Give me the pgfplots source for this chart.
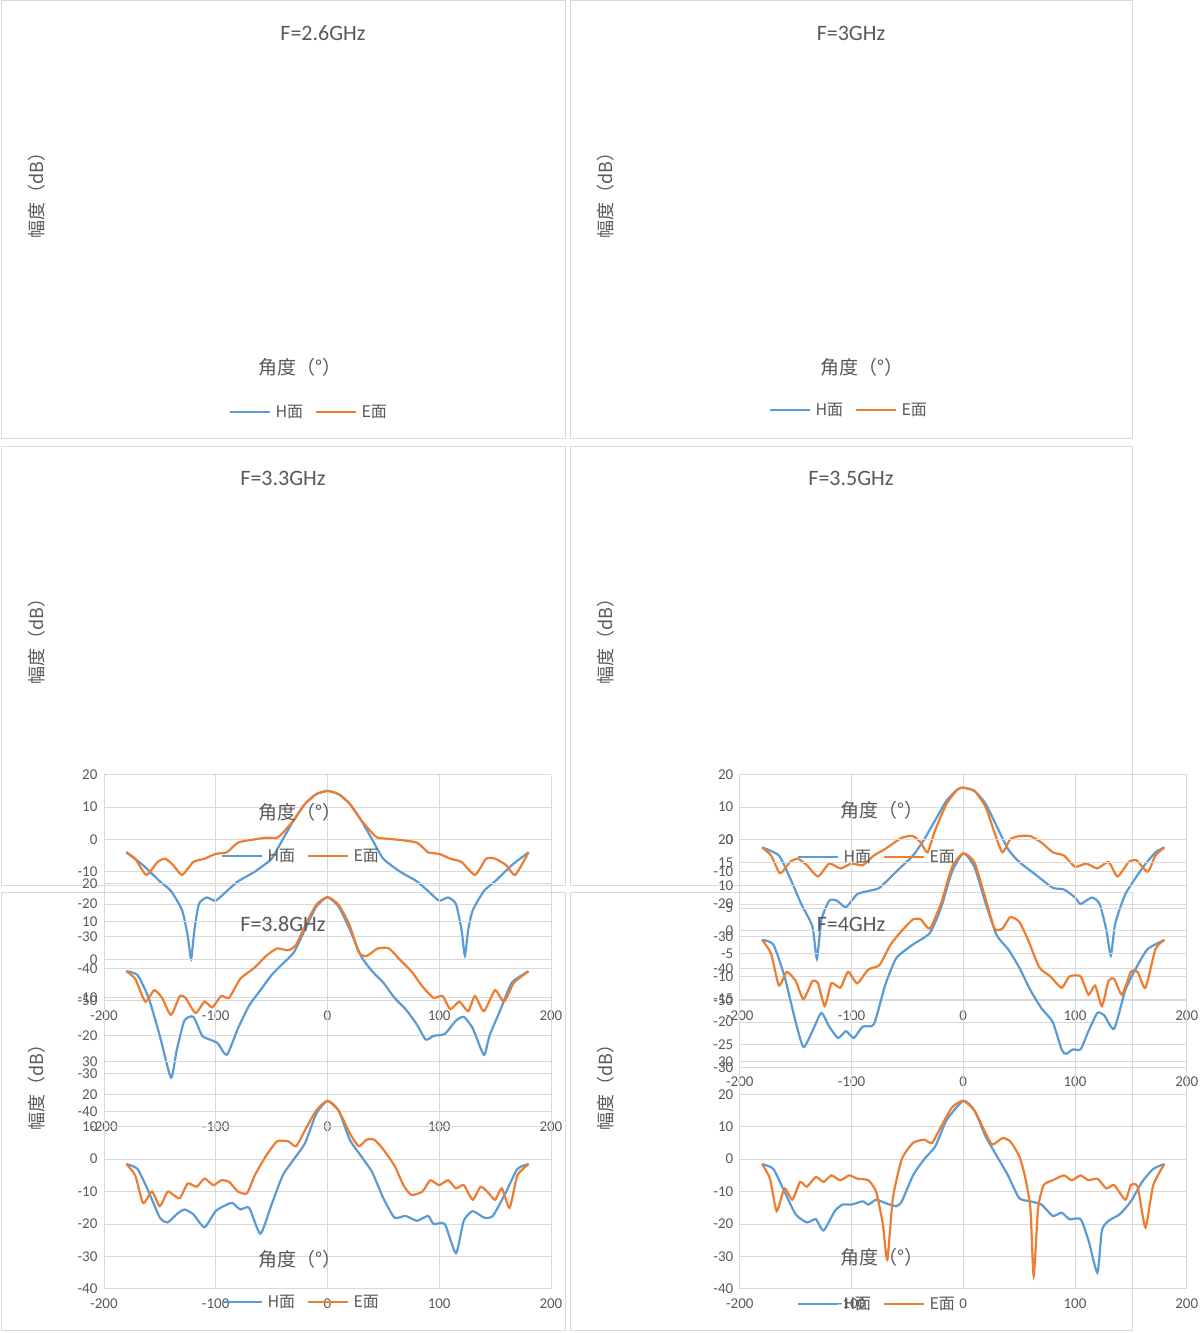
\documentclass[border=0pt]{standalone}
\usepackage{pgfplots}
\pgfplotsset{compat=1.18}
\usepackage{fontspec}
\setmainfont{Carlito}
\newfontfamily\cjk{Noto Sans CJK SC}
\definecolor{hb}{HTML}{5B9BD5}
\definecolor{eo}{HTML}{ED7D31}
\definecolor{gr}{HTML}{D9D9D9}
\definecolor{tx}{HTML}{595959}
\pgfplotsset{pan/.style={scale only axis,width=447pt,anchor=south west,
 xmin=-200,xmax=200,xtick={-200,-100,0,100,200},
 grid=major,grid style={gr,line width=0.8pt},axis line style={draw=none},
 major tick length=0pt,
 /pgf/number format/assume math mode=true,
 tick label style={tx,font=\fontsize{15}{15}\selectfont},
 xticklabel style={yshift=-6pt},yticklabel style={xshift=-3pt},
 every axis plot/.append style={line width=2.2pt,smooth,tension=0.35,no marks}}}
\newcommand\ttl[3]{\node[tx,font=\fontsize{22}{22}\selectfont] at (#1,1333-#2) {#3};}
\newcommand\xl[2]{\node[tx,font=\fontsize{19}{19}\selectfont] at (#1,1333-#2) {\cjk 角度（°）};}
\newcommand\yl[2]{\node[tx,rotate=90,font=\fontsize{18}{18}\selectfont] at (#1,1333-#2) {\cjk 幅度（dB）};}
\newcommand\lgd[2]{\begin{scope}[shift={(#1,1333-#2)}]
 \draw[hb,line width=2.2pt] (-80,0)--(-40,0); \node[tx,anchor=west,font=\fontsize{16}{16}\selectfont\cjk] at (-38,0) {H面};
 \draw[eo,line width=2.2pt] (6,0)--(46,0); \node[tx,anchor=west,font=\fontsize{16}{16}\selectfont\cjk] at (48,0) {E面};\end{scope}}
\begin{document}
\begin{tikzpicture}[x=1pt,y=1pt]
\path (0,0) rectangle (1134,1333);
\foreach \a/\b in {1/565,570/1132}{
 \draw[gr,line width=1pt] (\a,1333-1) rectangle (\b,1333-439);
 \draw[gr,line width=1pt] (\a,1333-447) rectangle (\b,1333-886);
 \draw[gr,line width=1pt] (\a,1333-893) rectangle (\b,1333-1331);}
% Panel 1
\begin{axis}[pan,at={(93,1333-304)},height=226pt,ymin=-50,ymax=20,ytick={-50,-40,...,20}]
\addplot[hb] coordinates {(-180,-4)(-165,-8)(-150,-13)(-140,-16)(-130,-22)(-125,-30)(-122,-37)(-119,-28)(-115,-20)(-108,-18)(-100,-19)(-90,-16)(-80,-13)(-65,-10)(-50,-6)(-40,0)(-30,6)(-20,11)(-10,14)(0,15)(10,14)(20,11)(30,6)(40,0)(50,-6)(65,-10)(80,-13)(90,-16)(100,-19)(108,-18)(115,-20)(120,-28)(123,-36)(126,-28)(130,-22)(140,-16)(150,-13)(165,-8)(180,-4)};
\addplot[eo] coordinates {(-180,-4)(-172,-6)(-162,-11)(-152,-7)(-145,-6)(-138,-8)(-130,-11)(-120,-7)(-110,-6)(-100,-4.5)(-90,-4)(-80,-1)(-65,0)(-55,0.5)(-45,0.5)(-40,2)(-30,6)(-20,11)(-10,14)(0,15)(10,14)(20,11)(30,6)(40,2)(45,0.5)(60,0)(80,-1)(90,-4)(100,-4.5)(110,-6)(120,-7)(132,-11)(142,-6)(150,-6)(160,-8)(168,-11)(180,-4)};
\end{axis}
% Panel 2
\begin{axis}[pan,at={(662,1333-304)},height=226pt,ymin=-50,ymax=20,ytick={-50,-40,...,20}]
\addplot[hb] coordinates {(-180,-2.5)(-165,-5)(-155,-12)(-145,-20)(-135,-27)(-131,-37)(-127,-25)(-120,-19)(-113,-19)(-105,-21)(-95,-17)(-85,-16)(-75,-15)(-60,-10)(-45,-5)(-35,0)(-25,6)(-15,12)(-5,15.5)(0,16)(10,15)(20,11)(30,4)(40,-3)(50,-7)(65,-11)(80,-15)(90,-15.5)(100,-18)(105,-20)(115,-18)(122,-20)(128,-28)(132,-36)(136,-26)(145,-17)(160,-9)(172,-4)(180,-2.5)};
\addplot[eo] coordinates {(-180,-2.5)(-172,-5)(-164,-10.5)(-155,-7)(-148,-6)(-140,-8)(-130,-11.5)(-120,-7.5)(-110,-9)(-100,-7.5)(-90,-8)(-80,-5)(-70,-3)(-55,0.5)(-45,1)(-38,-1)(-32,-4)(-25,3)(-15,11)(-5,15.5)(0,16)(10,15)(20,10)(28,2)(35,-4)(42,0)(50,1)(60,1)(70,-1)(80,-4)(90,-5)(100,-8.5)(110,-7.5)(120,-9)(130,-7)(138,-11.5)(148,-7)(155,-6.5)(165,-10)(172,-5)(180,-2.5)};
\end{axis}
% Panel 3
\begin{axis}[pan,at={(93,1333-751)},height=228pt,ymin=-40,ymax=20,ytick={-40,-30,...,20}]
\addplot[hb] coordinates {(-180,-3)(-170,-4)(-160,-10)(-150,-20)(-140,-31)(-135,-24)(-128,-16)(-120,-15)(-112,-20)(-105,-21)(-98,-22)(-90,-25)(-80,-18)(-70,-12)(-60,-8)(-50,-4)(-40,-1)(-30,2)(-20,8)(-10,14)(0,16.5)(10,14)(20,8)(30,1)(40,-3)(50,-6)(60,-10)(70,-13)(80,-17)(88,-21)(95,-20)(105,-19.5)(115,-16)(122,-15)(130,-18)(140,-25)(145,-20)(155,-13)(165,-6)(180,-3)};
\addplot[eo] coordinates {(-180,-3)(-172,-5)(-163,-11)(-155,-8)(-148,-10)(-140,-14.5)(-132,-9.5)(-127,-10)(-118,-14)(-110,-11)(-103,-12.5)(-95,-9.5)(-88,-10)(-78,-5)(-65,-2)(-55,1)(-45,3)(-35,2.5)(-28,4)(-20,9)(-10,14.5)(0,16.5)(10,14.5)(20,9)(28,2)(35,1)(45,3)(55,3)(65,0)(75,-3)(85,-7)(95,-10)(103,-9.5)(110,-13)(118,-11)(126,-13.5)(132,-9.5)(140,-13.5)(150,-8)(158,-11)(167,-6)(180,-3)};
\end{axis}
% Panel 4
\begin{axis}[pan,at={(662,1333-751)},height=228pt,ymin=-30,ymax=20,ytick={-30,-25,...,20}]
\addplot[hb] coordinates {(-180,-2)(-170,-3)(-160,-10)(-150,-20)(-143,-25.5)(-135,-22)(-127,-18)(-120,-21)(-112,-23.5)(-105,-22)(-98,-23.5)(-90,-21)(-80,-20.5)(-70,-12)(-60,-6)(-45,-3)(-30,-0.5)(-20,5)(-10,13)(0,17)(10,14)(20,6)(30,-1)(40,-4)(50,-8)(60,-13)(70,-17)(80,-20)(88,-26)(92,-27)(98,-26)(105,-26)(112,-22)(120,-18)(126,-18.5)(135,-21.5)(145,-13)(155,-8)(165,-4)(180,-2)};
\addplot[eo] coordinates {(-180,-2)(-172,-5)(-165,-12)(-158,-9)(-150,-11)(-143,-15)(-135,-11)(-130,-11.5)(-124,-16.5)(-118,-11.5)(-110,-12.5)(-103,-9)(-95,-11.5)(-85,-8.5)(-75,-7.5)(-65,-3)(-55,0)(-45,2.5)(-38,2.5)(-30,0.5)(-20,6)(-10,14)(0,17)(10,15)(20,7)(28,0.5)(35,0.5)(42,3)(50,2)(58,-2)(68,-8)(78,-10)(88,-12.5)(95,-10)(105,-10)(112,-14)(118,-12)(124,-16.5)(130,-11)(135,-10.5)(142,-14)(150,-9)(156,-9)(163,-12.5)(172,-4)(180,-2)};
\end{axis}
% Panel 5
\begin{axis}[pan,at={(93,1333-1197)},height=227pt,ymin=-40,ymax=30,ytick={-40,-30,...,30}]
\addplot[hb] coordinates {(-180,-1.5)(-170,-3)(-160,-10)(-150,-18)(-143,-19.5)(-135,-17)(-128,-15.5)(-120,-17)(-110,-21)(-100,-16)(-90,-14)(-85,-13.5)(-78,-15.5)(-70,-15)(-60,-23)(-50,-14)(-40,-5)(-30,0)(-20,5)(-10,14)(0,18)(10,15)(20,6)(30,1)(40,-4)(50,-12)(60,-18)(70,-17.5)(80,-19)(90,-17.5)(95,-20)(105,-20)(115,-29)(122,-19)(130,-16)(140,-18)(148,-17.5)(160,-10)(170,-3)(180,-1.5)};
\addplot[eo] coordinates {(-180,-1.5)(-172,-5)(-165,-13.5)(-157,-10)(-150,-14.5)(-143,-10)(-138,-11)(-132,-12)(-125,-7.5)(-117,-8.5)(-110,-6)(-102,-8)(-95,-6.5)(-88,-7)(-80,-10)(-72,-10.5)(-65,-5)(-55,1)(-45,5.5)(-35,5.5)(-28,4)(-20,9)(-10,15)(0,18)(10,15)(20,8)(28,4)(35,6)(42,6)(50,3)(60,-2)(68,-8)(75,-11)(85,-10)(92,-6.5)(100,-8)(108,-6.5)(115,-9)(122,-8)(130,-12.5)(137,-8.5)(143,-10)(150,-12.5)(156,-9)(163,-15)(170,-5)(180,-1.5)};
\end{axis}
% Panel 6
\begin{axis}[pan,at={(662,1333-1197)},height=227pt,ymin=-40,ymax=30,ytick={-40,-30,...,30}]
\addplot[hb] coordinates {(-180,-1.5)(-170,-3)(-160,-10)(-150,-17)(-140,-19.5)(-132,-18.5)(-125,-22)(-115,-16)(-108,-14)(-100,-14)(-90,-13)(-85,-14)(-78,-12.5)(-70,-13.5)(-60,-14.5)(-55,-13)(-45,-5)(-35,0)(-25,4)(-15,12)(0,18)(10,15)(20,7)(30,1)(40,-5)(50,-12)(60,-13)(70,-14)(80,-17.5)(88,-16.5)(95,-18.5)(105,-18.5)(112,-25)(120,-35)(124,-22)(130,-19)(140,-17)(150,-13)(160,-7)(170,-3)(180,-1.5)};
\addplot[eo] coordinates {(-180,-1.5)(-173,-6)(-167,-16)(-160,-9)(-153,-12.5)(-146,-7)(-140,-8.5)(-132,-5.5)(-125,-7)(-118,-5)(-110,-6.5)(-102,-5)(-95,-6)(-85,-6.5)(-78,-10)(-72,-20)(-68,-31)(-63,-12)(-55,0)(-45,5)(-35,6)(-28,5)(-20,10)(-10,16)(0,18)(10,15)(20,8)(26,4.5)(35,6.5)(42,5.5)(50,1)(55,-5)(60,-15)(63,-36)(67,-15)(72,-8)(80,-6.5)(90,-5)(97,-6.5)(105,-5)(112,-6.5)(120,-6)(128,-9)(135,-8)(145,-12.5)(150,-8)(156,-8.5)(163,-21)(170,-8)(180,-1.5)};
\end{axis}
\ttl{323}{33}{F=2.6GHz}\ttl{851}{33}{F=3GHz}
\ttl{283}{478}{F=3.3GHz}\ttl{851}{478}{F=3.5GHz}
\ttl{283}{924}{F=3.8GHz}\ttl{851}{924}{F=4GHz}
\xl{300}{367}\xl{862}{367}\xl{300}{812}\xl{882}{810}\xl{300}{1259}\xl{882}{1257}
\yl{37}{191}\yl{606}{191}\yl{37}{637}\yl{606}{637}\yl{37}{1083}\yl{606}{1083}
\lgd{310}{412}\lgd{850}{410}\lgd{302}{856}\lgd{878}{857}\lgd{302}{1302}\lgd{878}{1304}
\end{tikzpicture}
\end{document}
